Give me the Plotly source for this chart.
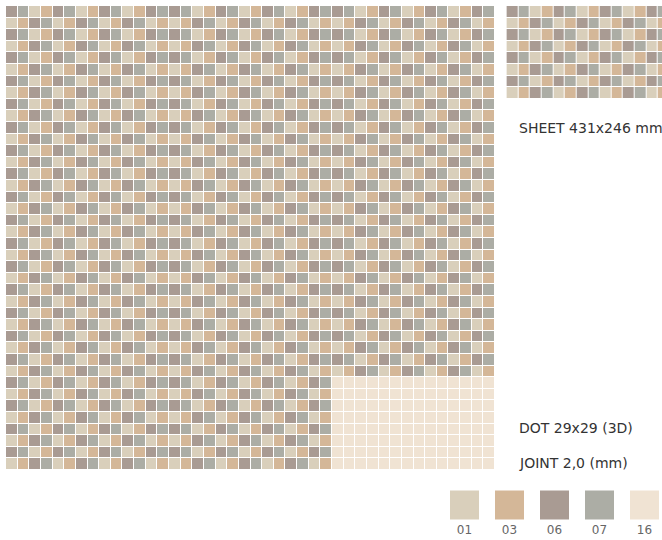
"""Mosaic sheet preview - DOT 29x29 blend with colour swatches."""

import plotly.graph_objects as go

# colour codes of the blend and their glaze colours
CODES = ["01", "03", "06", "07", "16"]
COLORS = ["#D9CFBB", "#D4B798", "#A99B93", "#ACADA5", "#F0E3D3"]

# one sheet = 14 dots x 8 rows, read row by row (codes)
SHEET_MIX = [
    ["06", "07", "01", "03", "06", "07", "01", "03", "06", "07", "01", "03", "06", "07"],
    ["01", "03", "06", "07", "01", "03", "06", "07", "01", "03", "06", "07", "01", "03"],
    ["06", "07", "01", "03", "06", "07", "01", "03", "06", "07", "01", "03", "06", "07"],
    ["01", "03", "06", "07", "01", "03", "06", "07", "01", "03", "06", "07", "01", "03"],
    ["06", "07", "01", "03", "06", "07", "01", "03", "06", "07", "01", "03", "06", "07"],
    ["01", "03", "06", "07", "01", "03", "06", "07", "01", "03", "06", "07", "01", "03"],
    ["06", "07", "01", "03", "06", "07", "01", "03", "06", "07", "01", "03", "06", "07"],
    ["01", "03", "06", "07", "01", "03", "06", "07", "01", "03", "06", "07", "01", "03"],
]
SHEET_PLAIN = [["16"] * 14 for _ in range(8)]

# wall layout: 5 rows of 3 sheets, the last one in plain 16
WALL = [
    ["mix", "mix", "mix"],
    ["mix", "mix", "mix"],
    ["mix", "mix", "mix"],
    ["mix", "mix", "mix"],
    ["mix", "mix", "plain"],
]
SHEETS = {"mix": SHEET_MIX, "plain": SHEET_PLAIN}

TEXTS = ["SHEET 431x246 mm", "DOT 29x29 (3D)", "JOINT 2,0 (mm)"]

W, H = 662, 540
FONT = "DejaVu Sans, Arial, sans-serif"
PX = 489 / 42   # dot pitch in px (horizontal)
PY = 464 / 40   # dot pitch in px (vertical)


def sheet_z(rows):
    return [[CODES.index(c) for c in r] for r in rows]


# assemble wall matrix from sheets
wall_z = []
for band in WALL:
    blocks = [sheet_z(SHEETS[k]) for k in band]
    for r in range(8):
        row = []
        for b in blocks:
            row += b[r]
        wall_z.append(row)

n = len(CODES)
scale = []
for i, c in enumerate(COLORS):
    scale += [[i / n, c], [(i + 1) / n, c]]

fig = go.Figure()
common = dict(colorscale=scale, zmin=-0.5, zmax=n - 0.5, showscale=False,
              xgap=1, ygap=1, hoverinfo="skip")

fig.add_trace(go.Heatmap(z=wall_z, x=list(range(42)), y=list(range(40)), **common))
# loose sheet on the right, cropped by the frame
fig.add_trace(go.Heatmap(z=sheet_z(SHEET_MIX), x=list(range(43, 57)),
                         y=list(range(8)), **common))

# swatches + code labels
fig.add_trace(go.Scatter(
    x=list(range(n)), y=[0] * n, mode="markers",
    marker=dict(symbol="square", size=29, color=COLORS, line=dict(width=0)),
    xaxis="x2", yaxis="y2", hoverinfo="skip",
))
fig.add_trace(go.Scatter(
    x=list(range(n)), y=[1] * n, mode="text", text=CODES,
    textfont=dict(family=FONT, size=12, color="#666666"),
    xaxis="x2", yaxis="y2", hoverinfo="skip",
))

for txt, ypx in zip(TEXTS, [128, 428, 463]):
    fig.add_annotation(text=txt, x=517 / W, y=1 - ypx / H, xref="paper", yref="paper",
                       xanchor="left", yanchor="middle", showarrow=False,
                       font=dict(family=FONT, size=14, color="#333333"))

fig.update_layout(
    width=W, height=H, margin=dict(l=0, r=0, t=0, b=0),
    paper_bgcolor="#FFFFFF", plot_bgcolor="#FFFFFF", showlegend=False,
    xaxis=dict(range=[-0.5 - 6 / PX, -0.5 + (W - 6) / PX], visible=False,
               fixedrange=True),
    yaxis=dict(range=[-0.5 + (H - 6) / PY, -0.5 - 6 / PY], visible=False,
               fixedrange=True),
    xaxis2=dict(range=[-464.5 / 45, (W - 464.5) / 45], visible=False,
                overlaying="x", fixedrange=True),
    yaxis2=dict(range=[(H - 505) / 26, -505 / 26], visible=False,
                overlaying="y", fixedrange=True),
)

# page body margin would push the figure off by 8px
fig.write_html("out.html", config={"displayModeBar": False},
               post_script="document.body.style.margin='0px';"
                           "document.body.style.overflow='hidden';")
